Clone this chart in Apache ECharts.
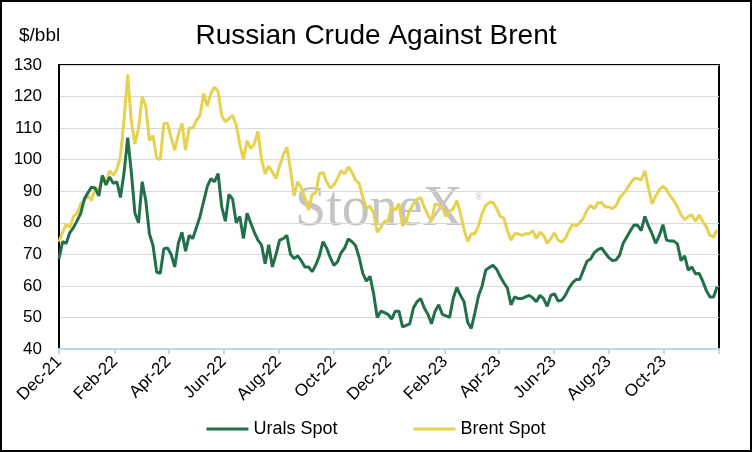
<!DOCTYPE html>
<html>
<head>
<meta charset="utf-8">
<script src="https://cdn.jsdelivr.net/npm/echarts@6/dist/echarts.min.js"></script>
<style>
  html, body { margin: 0; padding: 0; background: #fff; }
  #chart { width: 752px; height: 452px; box-sizing: border-box; border: 2px solid #000; }
</style>
</head>
<body>
<div id="chart"></div>
<script>
// sampled every 4 days from 1 Dec 2021
const startDate = "2021-12-01";
const stepDays = 4;

const uralsSpot = [
  68.6, 74, 73.5, 76.9, 78.5, 80.6, 83, 87.5, 89.5, 91.3,
  91, 88.5, 95, 92, 94.5, 92.5, 93, 88, 96, 107,
  96, 83, 80, 93, 87, 76.5, 72.8, 64.4, 64, 71.8,
  72, 70, 66, 73.5, 77, 71, 76, 75, 78.5, 82,
  86.8, 91.5, 94, 93, 95.6, 85, 80.5, 89, 87.5, 80,
  82, 75, 83, 80, 77, 74.5, 73, 67, 73, 66,
  70, 74.5, 75, 76, 70, 68.7, 69.5, 68, 66, 66,
  64.5, 66.6, 69.5, 74, 72, 69, 66.5, 67.6, 70.5, 72,
  74.9, 74, 72.8, 69, 64, 61.5, 63, 57.5, 50, 52,
  51.5, 51, 49.5, 52, 52, 47, 47.5, 48, 53, 55,
  56, 53, 51, 48, 52, 54, 51, 50.5, 50, 56,
  59.5, 57, 55, 48.5, 46.5, 51.5, 56.8, 60, 65, 65.8,
  66.5, 65.3, 63, 61, 59.3, 54, 56.5, 56, 56, 56.5,
  57, 56.2, 55, 57, 56, 53.5, 57, 57.5, 55.2, 55.5,
  57, 59.3, 61, 62, 62, 65, 67.8, 68.5, 70.5, 71.5,
  72, 70.5, 69, 68, 68.2, 69.7, 73.5, 75.5, 77.5, 79.3,
  79.2, 77.5, 82, 79, 76.5, 73.5, 76, 79.4, 74.5, 74.2,
  74.2, 73.3, 68, 69.5, 65, 66, 63.8, 64, 61.5, 58.5,
  56.5, 56.5, 59.8
];

const brentSpot = [
  74, 77, 79.5, 78.5, 82, 83, 86, 87, 88.5, 87,
  91, 90, 95, 92.5, 96.5, 95, 97, 101, 113, 127,
  112, 105, 110, 120, 117, 106, 107.6, 100.5, 100, 111.5,
  111.5, 107, 103, 108, 111.5, 103, 110, 110, 112.5, 114,
  121, 117, 121, 123, 121.6, 114, 112, 113, 114, 111,
  105, 100, 106, 103.5, 105, 109, 100, 95.5, 98, 96,
  94, 98, 101.5, 104, 97, 88.5, 93, 91, 88, 84,
  89, 89.5, 95.5, 96, 93, 91, 92, 94, 96.5, 95.5,
  97.7, 96, 93.5, 92.5, 88, 84.5, 85.3, 83, 77, 78.5,
  80.5, 80.5, 85, 84, 86, 79, 80.5, 84, 86, 87.5,
  88, 85, 82.5, 80.5, 86, 85.5, 85, 82, 83.5, 84.5,
  87, 83, 78, 74, 76.5, 76.5, 79, 83, 85.5, 86.5,
  86.5, 84.5, 82, 81.5, 77.5, 74.5, 76.5, 76.5, 76, 76.5,
  76.5, 77.5, 75, 77, 76, 73.5, 75, 76.8, 74.5, 73.8,
  75, 77.5, 79.5, 79, 80, 81.5, 84, 85.5, 84.5, 86.3,
  86.5, 85, 85, 84.5, 85.3, 87.8, 89.2, 90.6, 92.5, 94,
  94, 93.6, 96.5, 91, 86, 88.5, 90.5, 91.5, 90.5, 88.5,
  87, 85, 82.5, 81, 82, 82.5, 80.5, 82.5, 80.5, 78.7,
  76, 75.5, 77.8
];

const tickDates = [
  "2021-12-01", "2022-02-01", "2022-04-01", "2022-06-01", "2022-08-01", "2022-10-01",
  "2022-12-01", "2023-02-01", "2023-04-01", "2023-06-01", "2023-08-01", "2023-10-01",
  "2023-12-01"
];
const monthNames = ["Jan", "Feb", "Mar", "Apr", "May", "Jun", "Jul", "Aug", "Sep", "Oct", "Nov", "Dec"];

const DAY = 86400000;
const t0 = Date.parse(startDate + "T00:00:00Z");
const tickTimes = tickDates.map(d => Date.parse(d + "T00:00:00Z"));

function toPairs(values) {
  return values.map((v, i) => [t0 + i * stepDays * DAY, v]);
}

function fmtMonth(v) {
  let d = new Date(v);
  return monthNames[d.getUTCMonth()] + "-" + String(d.getUTCFullYear()).slice(2);
}

let myChart = echarts.init(document.getElementById("chart"));

myChart.setOption({
  animation: false,
  textStyle: { fontFamily: "Liberation Sans, Arial, sans-serif" },
  title: {
    text: "Russian Crude Against Brent",
    left: "center",
    top: 15,
    textStyle: { fontSize: 28, fontWeight: "normal", color: "#000" }
  },
  graphic: [
    {
      type: "text", left: 17, top: 24, z: 5,
      style: { text: "$/bbl", fontSize: 19, fill: "#000", fontFamily: "Liberation Sans, Arial, sans-serif" }
    },
    {
      type: "text", left: 293, top: 180, z: 0,
      style: { text: "StoneX", fontSize: 56, fill: "#c4c4c4", fontFamily: "Liberation Serif, serif" }
    },
    {
      type: "text", left: 473, top: 190, z: 0,
      style: { text: "®", fontSize: 10, fill: "#c4c4c4", fontFamily: "Liberation Serif, serif" }
    }
  ],
  legend: {
    left: "center",
    top: 413,
    icon: "rect",
    itemWidth: 42,
    itemHeight: 3,
    itemGap: 76,
    textStyle: { fontSize: 18, color: "#000", padding: [0, 0, 0, 0] },
    data: ["Urals Spot", "Brent Spot"]
  },
  grid: {
    left: 57, right: 31, top: 63, bottom: 101,
    show: true, borderColor: "#000", borderWidth: 2
  },
  xAxis: {
    type: "value",
    min: tickTimes[0],
    max: tickTimes[tickTimes.length - 1],
    splitLine: { show: false },
    axisLine: { show: true, lineStyle: { color: "#bdd7ee", width: 2 } },
    axisTick: {
      show: true, length: 5,
      lineStyle: { color: "#bdd7ee", width: 2 },
      customValues: tickTimes
    },
    axisLabel: {
      rotate: 45,
      margin: 10,
      fontSize: 17,
      color: "#000",
      customValues: tickTimes.slice(0, -1),
      formatter: fmtMonth
    }
  },
  yAxis: {
    type: "value",
    min: 40, max: 130, interval: 10,
    axisLine: { show: true, lineStyle: { color: "#000", width: 2 } },
    axisTick: { show: false },
    axisLabel: { fontSize: 17, color: "#000", margin: 17 },
    splitLine: { lineStyle: { color: "#d9d9d9", width: 1 } }
  },
  series: [
    {
      name: "Urals Spot",
      type: "line",
      data: toPairs(uralsSpot),
      showSymbol: false,
      color: "#22704a",
      lineStyle: { width: 3, color: "#22704a" },
      z: 3
    },
    {
      name: "Brent Spot",
      type: "line",
      data: toPairs(brentSpot),
      showSymbol: false,
      color: "#e6d24f",
      lineStyle: { width: 3, color: "#e6d24f" },
      z: 2
    }
  ]
});
</script>
</body>
</html>
